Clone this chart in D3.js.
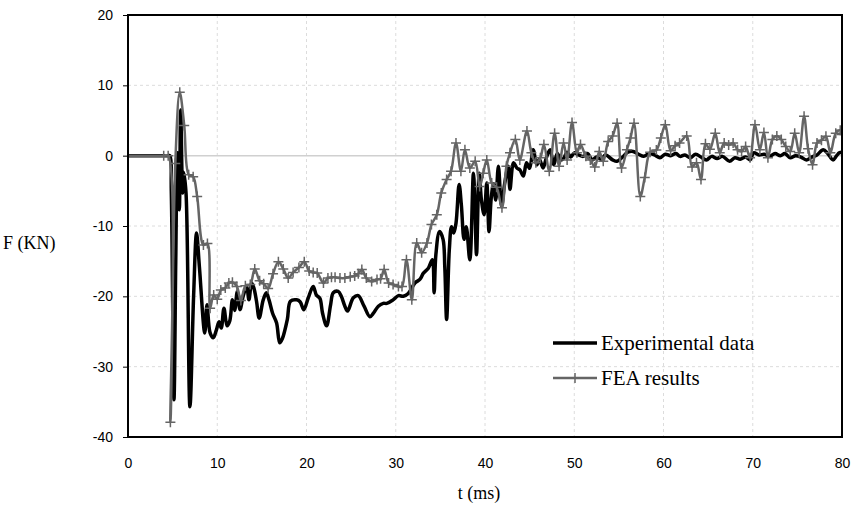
<!DOCTYPE html>
<html>
<head>
<meta charset="utf-8">
<script src="https://cdn.jsdelivr.net/npm/d3@7"></script>
<style>
  html, body { margin: 0; padding: 0; background: #fff; }
  svg { display: block; }
  .tick-label { font-family: "Liberation Sans", Arial, sans-serif; font-size: 14px; fill: #000; }
  .axis-title, .legend-text { font-family: "Liberation Serif", "Times New Roman", serif; fill: #000; }
</style>
</head>
<body>
<svg id="chart" width="853" height="505"></svg>
<script>
// Axis ticks
const xTicks = [0, 10, 20, 30, 40, 50, 60, 70, 80];
const yTicks = [-40, -30, -20, -10, 0, 10, 20];

// Measured force history (t in ms, F in kN)
const expT = [0, 1, 2, 3, 4, 4.5, 4.7, 4.85, 5.15, 5.35, 5.53, 5.75, 5.9, 6.12, 6.25, 6.5, 6.94, 7.35, 7.68, 8.0, 8.6, 8.85, 9.2, 9.55, 9.9,
  10.2, 10.45, 10.75, 11.1, 11.4, 11.7, 11.95, 12.25, 12.55, 12.9, 13.3, 13.55, 13.85, 14.1, 14.4, 14.7, 15.15, 15.5, 15.8, 16.2,
  16.65, 17.0, 17.3, 17.85, 18.2, 18.9, 19.3, 19.7, 20.2, 20.75, 21.1, 21.5, 21.8, 22.25, 22.7, 23.0, 23.55, 23.9, 24.3, 24.6,
  25.25, 25.8, 26.45, 27.1, 27.5, 28.05, 28.6, 29.0, 29.7, 30.3, 30.85, 31.4, 32.15, 32.7, 33.1, 33.65, 34.1, 34.3, 34.5, 34.9,
  35.3, 35.5, 35.7, 36.0, 36.25, 36.5, 36.75, 37.1, 37.35, 37.65, 37.9, 38.3, 38.7, 38.85, 39.05, 39.35, 39.6, 39.9, 40.2, 40.45,
  40.7, 40.95, 41.2, 41.5, 41.85, 42.2, 42.6, 42.8, 43.2, 43.6, 43.9, 44.3, 44.65, 45.0, 45.4, 45.8, 46.1, 46.5, 46.9, 47.3,
  47.7, 48.1, 48.5, 48.8, 49.2, 49.6, 50.0, 50.5, 51.0, 51.5, 52.0, 52.5, 53.0, 53.5, 54.3, 54.8, 55.4, 56.0, 56.6, 57.2,
  57.8, 58.4, 59.0, 59.6, 60.2, 60.8, 61.4, 61.85, 62.4, 63.0, 63.6, 64.2, 64.8, 65.4, 66.0, 66.6, 67.4, 68.0, 68.6, 69.2,
  69.7, 70.1, 70.7, 71.3, 71.9, 72.5, 73.1, 73.6, 74.2, 74.8, 75.4, 76.0, 76.6, 77.2, 77.9, 78.4, 79.0, 79.4, 79.7, 80];
const expF = [0, 0, 0, 0, 0, 0, 0, -5, -34.7, -15, 0.4, -7.7, 6.5, -5.3, -2.4, -5.3, -35.7, -20, -11.0, -15.8, -25.2, -21.2, -25.2, -25.9, -24.8,
  -23.6, -24.5, -21.7, -24.2, -23.5, -20.5, -22, -19.3, -21.9, -20.0, -18.6, -20.5, -18.1, -18.8, -20.7, -23.1, -20.5, -19.5, -20.5, -22.4,
  -23.8, -26.6, -26.0, -23.3, -20.7, -20.5, -20.8, -21.9, -20.2, -18.6, -19.8, -20.3, -22.4, -24.2, -21.2, -19.5, -19.3, -20.0, -21.4, -22.1,
  -20.2, -19.9, -21.4, -22.9, -22.4, -21.4, -21.0, -21.0, -20.5, -19.9, -20.0, -19.6, -18.1, -17.6, -16.7, -16.0, -14.8, -19.5, -14, -10.8,
  -11.9, -16, -23.3, -13.4, -10.1, -11, -9.6, -4.1, -7, -11.9, -10.1, -14.8, -2.5, -6, -14.1, -2.5, -6.3, -8.4, -3.9, -10.8,
  -6, -4, -6.3, -1.5, -7.2, -4, -1.5, -4.8, -1.0, -1.8, -2.0, -2.9, -1.0, -1.8, 0.85, -1.3, -0.5, -1.75, -0.2, 0.85,
  -1.3, 0.3, -0.6, -0.4, 0.5, -0.2, 0.4, 0.1, -0.1, 0.3, -0.6, -0.2, -0.5, 0.1, -0.6, -0.8, -0.2, 0.5, 0.6, 0.2,
  -0.1, 0.3, 0.1, -0.3, 0.2, 0.0, 0.3, -0.1, 0.1, -0.3, 0.2, -0.2, -0.6, -0.1, -0.4, -0.1, -0.8, -0.3, -0.5, -0.2,
  -0.6, 0.4, 0.1, 0.2, -0.1, 0.3, 0.0, 0.3, -0.3, 0.0, -0.2, -0.6, -0.2, 0.1, 0.85, 0.3, -0.6, 0.0, 0.4, 0.5];

// Finite element prediction (t in ms, F in kN)
const feaT = [0, 4, 4.5, 4.75, 5.3, 5.8, 6.3, 6.8, 7.3, 7.75, 8.45, 8.9, 9.2,
  9.6, 10.0, 10.4, 10.9, 11.3, 11.7, 12.2, 12.65, 13.15, 13.7, 14.2, 14.75, 15.2, 15.7, 16.25, 16.85, 17.4, 17.95, 18.5, 19.15,
  19.75, 20.3, 20.75, 21.2, 21.9, 22.4, 22.8, 23.2, 23.75, 24.3, 24.9, 25.4, 25.8, 26.2, 26.7, 27.3, 27.9, 28.3, 28.7, 29.2,
  29.7, 30.3, 30.7, 31.2, 31.8, 32.35, 32.9, 33.5, 34.0, 34.6, 35.1, 35.7, 36.2, 36.75, 37.3, 37.75, 38.3, 38.9, 39.4, 39.8,
  40.2, 40.75, 41.3, 41.9, 42.4, 42.8, 43.4, 43.9, 44.7, 45.2, 45.7, 46.2, 46.6, 47.2, 47.8, 48.3, 48.8, 49.2, 49.75, 50.3,
  50.7, 51.3, 51.8, 52.3, 52.8, 53.25, 53.8, 54.3, 54.8, 55.3, 55.9, 56.3, 56.7, 57.4, 57.9, 58.5, 59.2, 59.7, 60.2, 60.8,
  61.3, 61.8, 62.6, 63.2, 63.7, 64.2, 64.7, 65.2, 65.8, 66.3, 66.8, 67.3, 67.8, 68.3, 68.75, 69.2, 69.7, 70.25, 70.8, 71.25,
  71.7, 72.2, 72.7, 73.2, 73.7, 74.2, 74.7, 75.2, 75.75, 76.2, 76.7, 77.2, 77.7, 78.2, 78.7, 79.3, 79.8, 80];
const feaF = [0, 0, 0, -37.9, -1.1, 9.0, 4.3, -2.7, -3.0, -5.8, -12.7, -12.5, -21.7,
  -19.8, -20.4, -19.1, -18.8, -18.1, -18.0, -18.6, -20.6, -18.5, -18.3, -16.1, -17.8, -18.2, -18.9, -16.8, -15.1, -16.1, -17.4, -16.6, -15.9,
  -15.1, -16.4, -16.6, -16.7, -18.1, -17.4, -17.3, -17.3, -17.4, -17.4, -17.2, -17.1, -16.8, -16.2, -17.4, -17.9, -17.6, -17.5, -16.2, -18.1,
  -18.3, -18.6, -18.6, -14.8, -20.5, -12.4, -13.8, -12.4, -9.8, -8.4, -5.3, -3.4, -2.2, 1.8, -2.2, 0.85, -1.75, -0.8, -4.4, -2.5,
  -0.6, -3.9, -4.5, -7.4, -1.5, 0.4, 2.3, -0.6, 3.5, 0.4, -1.0, -0.3, 1.6, -2.2, 3.2, -1.5, 1.8, -0.6, 4.7, 0.4,
  1.6, -0.1, -0.6, -1.6, 0.6, -0.8, 2.0, 2.8, 4.6, -1.75, 0.85, 2.5, 4.6, -5.8, -3.1, 0.5, 0.8, 2.5, 4.4, 0.7,
  1.4, 1.8, 2.8, -1.6, -1.0, -3.4, 1.7, 0.9, 3.2, 0.4, 1.8, 1.5, 1.8, 0.85, 0.6, 1.3, -0.3, 4.4, 0.85, 3.3,
  -0.3, 2.3, 2.8, 2.3, 1.3, 0.6, 3.2, 0.4, 5.6, 1.0, -1.3, 1.8, 2.2, 2.75, 0.4, 3.2, 3.6, 3.0];

const seriesNames = ["Experimental data", "FEA results"];

const svg = d3.select("#chart");
const plot = { left: 128, right: 842, top: 15, bottom: 437 };

const x = d3.scaleLinear().domain([0, 80]).range([plot.left, plot.right]);
const y = d3.scaleLinear().domain([-40, 20]).range([plot.bottom, plot.top]);

// Gridlines
const grid = svg.append("g");
grid.selectAll("line.vgrid").data(xTicks.filter(d => d > 0 && d < 80)).join("line")
  .attr("x1", d => x(d)).attr("x2", d => x(d))
  .attr("y1", plot.top).attr("y2", plot.bottom)
  .attr("stroke", "#dcdcdc").attr("stroke-width", 1).attr("stroke-dasharray", "3,3");
grid.selectAll("line.hgrid").data(yTicks.filter(d => d > -40 && d < 20)).join("line")
  .attr("x1", plot.left).attr("x2", plot.right)
  .attr("y1", d => y(d)).attr("y2", d => y(d))
  .attr("stroke", d => d === 0 ? "#d0d0d0" : "#dcdcdc")
  .attr("stroke-width", d => d === 0 ? 1.5 : 1)
  .attr("stroke-dasharray", d => d === 0 ? null : "3,3");

// Axes (plain hyphen-minus labels)
const fmt = d => String(d);
const yAxis = d3.axisLeft(y).tickValues(yTicks).tickFormat(fmt).tickSize(5).tickPadding(10);
const xAxis = d3.axisBottom(x).tickValues(xTicks).tickFormat(fmt).tickSize(0).tickPadding(21);

const gy = svg.append("g").attr("transform", `translate(${plot.left},0)`).call(yAxis);
gy.select(".domain").remove();
gy.selectAll(".tick line").attr("stroke", "#000").attr("stroke-width", 1);
gy.selectAll(".tick text").attr("class", "tick-label").attr("font-size", null).attr("font-family", null);

const gx = svg.append("g").attr("transform", `translate(0,${plot.bottom})`).call(xAxis);
gx.select(".domain").remove();
gx.selectAll(".tick text").attr("class", "tick-label").attr("font-size", null).attr("font-family", null);

// Series
const expData = expT.map((t, i) => [t, expF[i]]);
const feaData = feaT.map((t, i) => [t, feaF[i]]);

const line = d3.line()
  .x(d => x(d[0])).y(d => y(d[1]))
  .curve(d3.curveCatmullRom.alpha(0.5));

svg.append("clipPath").attr("id", "plotclip").append("rect")
  .attr("x", plot.left).attr("y", plot.top)
  .attr("width", plot.right - plot.left).attr("height", plot.bottom - plot.top);

const series = svg.append("g").attr("clip-path", "url(#plotclip)");

const feaColor = "#656565";
series.append("path").datum(feaData.filter(d => d[0] <= 4.5))
  .attr("d", line).attr("fill", "none")
  .attr("stroke", feaColor).attr("stroke-width", 2.5);

series.append("path").datum(expData)
  .attr("d", line).attr("fill", "none")
  .attr("stroke", "#000").attr("stroke-width", 3.5)
  .attr("stroke-linejoin", "round").attr("stroke-linecap", "round");

series.append("path").datum(feaData)
  .attr("d", line).attr("fill", "none")
  .attr("stroke", feaColor).attr("stroke-width", 2.5)
  .attr("stroke-linejoin", "round");

const markerSize = 5;
const plusPath = (cx, cy) => `M${cx - markerSize},${cy}H${cx + markerSize}M${cx},${cy - markerSize}V${cy + markerSize}`;
series.selectAll("path.mk").data(feaData.filter(d => d[0] > 0)).join("path")
  .attr("class", "mk")
  .attr("d", d => plusPath(x(d[0]), y(d[1])))
  .attr("stroke", feaColor).attr("stroke-width", 1.5).attr("fill", "none");

// Plot frame
svg.append("rect")
  .attr("x", plot.left).attr("y", plot.top)
  .attr("width", plot.right - plot.left).attr("height", plot.bottom - plot.top)
  .attr("fill", "none").attr("stroke", "#000").attr("stroke-width", 2);

// Axis titles
svg.append("text").attr("class", "axis-title")
  .attr("x", (plot.left + plot.right) / 2 - 6).attr("y", 499)
  .attr("text-anchor", "middle").attr("font-size", 18)
  .text("t (ms)");
svg.append("text").attr("class", "axis-title")
  .attr("x", 3).attr("y", 249)
  .attr("text-anchor", "start").attr("font-size", 18)
  .text("F (KN)");

// Legend
const legend = svg.append("g");
const lx0 = 553, lx1 = 597;
legend.append("line").attr("x1", lx0).attr("x2", lx1).attr("y1", 343).attr("y2", 343)
  .attr("stroke", "#000").attr("stroke-width", 3.5);
legend.append("line").attr("x1", lx0).attr("x2", lx1).attr("y1", 378).attr("y2", 378)
  .attr("stroke", feaColor).attr("stroke-width", 2.5);
legend.append("path")
  .attr("d", plusPath((lx0 + lx1) / 2, 378))
  .attr("stroke", feaColor).attr("stroke-width", 1.5);
legend.selectAll("text").data(seriesNames).join("text")
  .attr("class", "legend-text")
  .attr("x", 601).attr("y", (d, i) => 350 + i * 35)
  .attr("font-size", 21)
  .text(d => d);
</script>
</body>
</html>
